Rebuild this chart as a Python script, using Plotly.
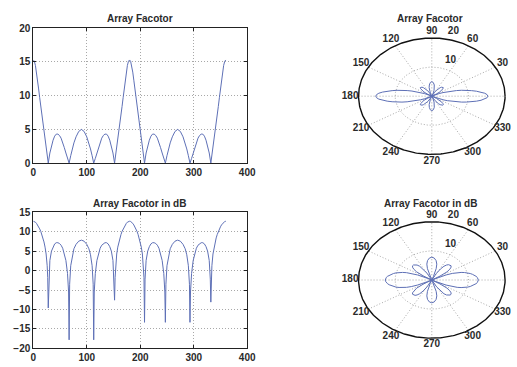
import numpy as np
import plotly.graph_objects as go

# ---------------- data ----------------
AF_DEG = [0, 2, 4, 6, 8, 10, 12, 14, 16, 18, 20, 22, 24, 26, 28,
          31, 34, 37, 40, 43, 46, 49, 52, 55, 58, 61, 64, 67,
          70, 73, 76, 80, 85, 90, 95, 100, 104, 107, 110, 113,
          116, 119, 122, 125, 128, 131, 134, 137, 140, 143, 146, 149, 152,
          154, 156, 158, 160, 162, 164, 166, 168, 170, 172, 174, 176, 178, 180,
          182, 184, 186, 188, 190, 192, 194, 196, 198, 200, 202, 204, 206, 208,
          211, 214, 217, 220, 223, 226, 229, 232, 235, 238, 241, 244, 247,
          250, 253, 256, 260, 265, 270, 275, 280, 284, 287, 290, 293,
          296, 299, 302, 305, 308, 311, 314, 317, 320, 323, 326, 329, 332,
          334, 336, 338, 340, 342, 344, 346, 348, 350, 352, 354, 356, 358, 360]
AF_VAL = [15.3, 15.1, 14.5, 13.5, 12.3, 11.0, 9.7, 8.4, 7.0, 5.7, 4.5, 3.3, 2.2, 1.1, 0.0,
          1.5, 2.6, 3.4, 4.0, 4.3, 4.3, 4.1, 3.7, 3.1, 2.3, 1.5, 0.7, 0.0,
          1.1, 2.1, 3.0, 3.9, 4.7, 5.0, 4.7, 3.9, 3.0, 2.1, 1.1, 0.0,
          0.7, 1.5, 2.3, 3.1, 3.7, 4.1, 4.3, 4.3, 4.0, 3.4, 2.6, 1.5, 0.0,
          1.1, 2.2, 3.3, 4.5, 5.7, 7.0, 8.4, 9.7, 11.0, 12.3, 13.5, 14.5, 15.1, 15.3,
          15.1, 14.5, 13.5, 12.3, 11.0, 9.7, 8.4, 7.0, 5.7, 4.5, 3.3, 2.2, 1.1, 0.0,
          1.5, 2.6, 3.4, 4.0, 4.3, 4.3, 4.1, 3.7, 3.1, 2.3, 1.5, 0.7, 0.0,
          1.1, 2.1, 3.0, 3.9, 4.7, 5.0, 4.7, 3.9, 3.0, 2.1, 1.1, 0.0,
          0.7, 1.5, 2.3, 3.1, 3.7, 4.1, 4.3, 4.3, 4.0, 3.4, 2.6, 1.5, 0.0,
          1.1, 2.2, 3.3, 4.5, 5.7, 7.0, 8.4, 9.7, 11.0, 12.3, 13.5, 14.5, 15.1, 15.3]

DB_DEG = [0, 2, 4, 6, 8, 10, 12, 14, 16, 18, 20, 22, 24, 26, 27, 28, 29,
          31, 34, 37, 40, 43, 46, 49, 52, 55, 58, 61, 64, 66, 67, 68,
          70, 73, 76, 80, 85, 90, 95, 100, 104, 107, 110, 112, 113, 114,
          116, 119, 122, 125, 128, 131, 134, 137, 140, 143, 146, 149, 151, 152, 153,
          154, 156, 158, 160, 162, 164, 166, 168, 170, 172, 174, 176, 178, 180,
          182, 184, 186, 188, 190, 192, 194, 196, 198, 200, 202, 204, 206, 207, 208, 209,
          211, 214, 217, 220, 223, 226, 229, 232, 235, 238, 241, 244, 246, 247, 248,
          250, 253, 256, 260, 265, 270, 275, 280, 284, 287, 290, 292, 293, 294,
          296, 299, 302, 305, 308, 311, 314, 317, 320, 323, 326, 329, 331, 332, 333,
          334, 336, 338, 340, 342, 344, 346, 348, 350, 352, 354, 356, 358, 360]
DB_VAL = [12.7, 12.64, 12.46, 12.15, 11.75, 11.26, 10.72, 10.09, 9.3, 8.41, 7.38, 6.04, 4.27, 1.26, -1.8, -9.6, -2.2,
          2.61, 5.0, 6.16, 6.87, 7.18, 7.18, 6.98, 6.53, 5.76, 4.47, 2.61, -0.7, -5.5, -17.8, -3.5,
          1.26, 4.07, 5.62, 6.76, 7.57, 7.84, 7.57, 6.76, 5.62, 4.07, 1.26, -3.5, -17.8, -5.5,
          -0.7, 2.61, 4.47, 5.76, 6.53, 6.98, 7.18, 7.18, 6.87, 6.16, 5.0, 2.61, -2.2, -7.6, -1.8,
          1.26, 4.27, 6.04, 7.38, 8.41, 9.3, 10.09, 10.72, 11.26, 11.75, 12.15, 12.46, 12.64, 12.7,
          12.64, 12.46, 12.15, 11.75, 11.26, 10.72, 10.09, 9.3, 8.41, 7.38, 6.04, 4.27, 1.26, -1.8, -13.3, -2.2,
          2.61, 5.0, 6.16, 6.87, 7.18, 7.18, 6.98, 6.53, 5.76, 4.47, 2.61, -0.7, -5.5, -13.3, -3.5,
          1.26, 4.07, 5.62, 6.76, 7.57, 7.84, 7.57, 6.76, 5.62, 4.07, 1.26, -3.5, -13.3, -5.5,
          -0.7, 2.61, 4.47, 5.76, 6.53, 6.98, 7.18, 7.18, 6.87, 6.16, 5.0, 2.61, -2.2, -8.1, -1.8,
          1.26, 4.27, 6.04, 7.38, 8.41, 9.3, 10.09, 10.72, 11.26, 11.75, 12.15, 12.46, 12.64, 12.7]

X_TICKS = [0, 100, 200, 300, 400]
Y_TICKS_LIN = [0, 5, 10, 15, 20]
Y_TICKS_DB = [-20, -15, -10, -5, 0, 5, 10, 15]
ANGLE_TICKS = [0, 30, 60, 90, 120, 150, 180, 210, 240, 270, 300, 330]
R_TICKS = [10, 20]
R_MAX = 20
TITLES = ["Array Facotor", "Array Facotor", "Array Facotor in dB", "Array Facotor in dB"]

# ---------------- styling ----------------
W, H = 517, 367
BLUE = "#5e70b6"
FONT = dict(family="Liberation Sans, Arial, sans-serif", size=10, color="#2a2a2a", weight="bold")
GRID = "#a8a8a8"
DOT = "1px,2px"

# polar frames: ellipse centre (px), 3.75 px per unit horizontally, 3 px per unit vertically
CX = 439
SX, SY = 3.75, 3.0
XR = [-24.0, (W - CX) / SX]       # right edge of the axes at the page edge
YR = [-23.5, 23.5]
CY_TOP, CY_BOT = 94.0, 283.5

fig = go.Figure()

fig.add_trace(go.Scatter(x=AF_DEG, y=AF_VAL, mode="lines",
                         line=dict(color=BLUE, width=1), xaxis="x", yaxis="y",
                         showlegend=False, hoverinfo="skip"))
fig.add_trace(go.Scatter(x=DB_DEG, y=DB_VAL, mode="lines",
                         line=dict(color=BLUE, width=1), xaxis="x3", yaxis="y3",
                         showlegend=False, hoverinfo="skip"))

t = np.linspace(0, 2 * np.pi, 361)


def polar_frame(xa, ya):
    for a in ANGLE_TICKS[:6]:
        ar = np.deg2rad(a)
        fig.add_trace(go.Scatter(x=[-R_MAX * np.cos(ar), R_MAX * np.cos(ar)],
                                 y=[-R_MAX * np.sin(ar), R_MAX * np.sin(ar)],
                                 mode="lines", line=dict(color=GRID, width=1, dash=DOT),
                                 xaxis=xa, yaxis=ya, showlegend=False, hoverinfo="skip"))
    for r in R_TICKS[:-1]:
        fig.add_trace(go.Scatter(x=r * np.cos(t), y=r * np.sin(t), mode="lines",
                                 line=dict(color=GRID, width=1, dash=DOT),
                                 xaxis=xa, yaxis=ya, showlegend=False, hoverinfo="skip"))
    fig.add_trace(go.Scatter(x=R_MAX * np.cos(t), y=R_MAX * np.sin(t), mode="lines",
                             line=dict(color="#111111", width=1.4),
                             xaxis=xa, yaxis=ya, showlegend=False, hoverinfo="skip"))
    ang = np.deg2rad(np.array(ANGLE_TICKS, dtype=float))
    lx = list(22.3 * np.cos(ang)) + [5.1, 5.9]
    ly = list(22.3 * np.sin(ang)) + [12.3, 22.3]
    lt = [str(a) for a in ANGLE_TICKS] + [str(r) for r in R_TICKS]
    fig.add_trace(go.Scatter(x=lx, y=ly, text=lt, mode="text", textposition="middle center",
                             textfont=FONT, cliponaxis=False,
                             xaxis=xa, yaxis=ya, showlegend=False, hoverinfo="skip"))


def polar_curve(deg, val, xa, ya):
    th = np.deg2rad(np.array(deg, dtype=float))
    r = np.clip(np.array(val, dtype=float), 0, None)
    fig.add_trace(go.Scatter(x=r * np.cos(th), y=r * np.sin(th), mode="lines",
                             line=dict(color=BLUE, width=1),
                             xaxis=xa, yaxis=ya, showlegend=False, hoverinfo="skip"))


polar_frame("x2", "y2")
polar_curve(AF_DEG, AF_VAL, "x2", "y2")
polar_frame("x4", "y4")
polar_curve(DB_DEG, DB_VAL, "x4", "y4")

PX_DOM = [(CX + XR[0] * SX) / W, 1.0]


def ydom(cy):
    top = cy - YR[1] * SY
    bot = cy - YR[0] * SY
    return [1 - bot / H, 1 - top / H]


annotations = []
title_pos = [(140 / W, 1 - 14 / H), (437 / W, 1 - 14 / H),
             (140 / W, 1 - 204.5 / H), (438 / W, 1 - 204.5 / H)]
for (tx, ty), txt in zip(title_pos, TITLES):
    annotations.append(dict(x=tx, y=ty, xref="paper", yref="paper", text=txt,
                            showarrow=False, font=FONT, xanchor="center", yanchor="middle"))

cart_axis = dict(showline=True, linecolor="#222222", linewidth=1, mirror="allticks",
                 ticks="inside", ticklen=3, tickcolor="#222222", showgrid=True,
                 gridcolor=GRID, griddash=DOT, gridwidth=1, zeroline=False,
                 tickfont=FONT, fixedrange=True)
hidden = dict(visible=False, fixedrange=True)

fig.update_layout(
    width=W, height=H, margin=dict(l=0, r=0, t=0, b=0),
    paper_bgcolor="white", plot_bgcolor="white", showlegend=False,
    font=FONT,
    xaxis=dict(cart_axis, domain=[31 / W, 250 / W], range=[0, 400], tickvals=X_TICKS, anchor="y"),
    yaxis=dict(cart_axis, domain=[1 - 163 / H, 1 - 24 / H], range=[0, 20], tickvals=Y_TICKS_LIN, anchor="x"),
    xaxis3=dict(cart_axis, domain=[31 / W, 250 / W], range=[0, 400], tickvals=X_TICKS, anchor="y3"),
    yaxis3=dict(cart_axis, domain=[1 - 354 / H, 1 - 213.7 / H], range=[-20, 15], tickvals=Y_TICKS_DB, anchor="x3"),
    xaxis2=dict(hidden, domain=PX_DOM, range=XR, anchor="y2"),
    yaxis2=dict(hidden, domain=ydom(CY_TOP), range=YR, anchor="x2"),
    xaxis4=dict(hidden, domain=PX_DOM, range=XR, anchor="y4"),
    yaxis4=dict(hidden, domain=ydom(CY_BOT), range=YR, anchor="x4"),
    annotations=annotations,
)

fig.write_html("out.html")
